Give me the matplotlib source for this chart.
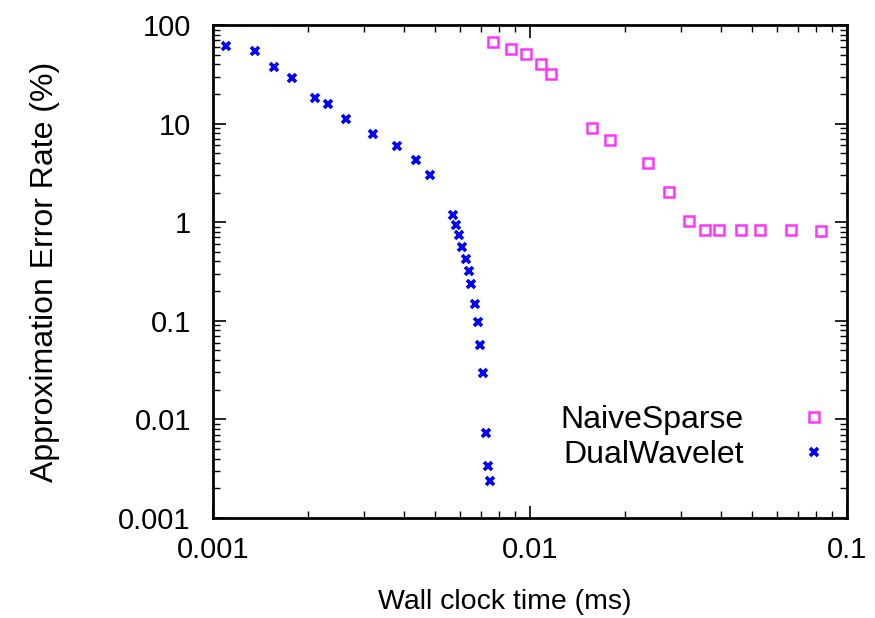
import matplotlib
matplotlib.use("Agg")
import matplotlib.pyplot as plt
from matplotlib.ticker import FixedLocator, FixedFormatter, LogLocator, NullFormatter

plt.rcParams["font.family"] = ["Liberation Sans", "DejaVu Sans"]

# DualWavelet: wall clock time (ms) vs approximation error (%)
dual_time = [0.0011, 0.00136, 0.00156, 0.00177, 0.0021, 0.0023, 0.00262, 0.0032,
             0.0038, 0.00436, 0.00483, 0.00573, 0.00584, 0.00597, 0.00609, 0.00627,
             0.00642, 0.00651, 0.0067, 0.00684, 0.00696, 0.00712, 0.00726, 0.00739,
             0.00748]
dual_err = [61.2, 54.5, 37.8, 28.8, 18.0, 15.8, 11.1, 7.9,
            5.97, 4.25, 3.01, 1.18, 0.937, 0.741, 0.556, 0.424,
            0.322, 0.236, 0.147, 0.0973, 0.0564, 0.0293, 0.00723, 0.00339,
            0.00237]

# NaiveSparse
naive_time = [0.00763, 0.00869, 0.00971, 0.0108, 0.01165, 0.0157, 0.01784, 0.0235,
              0.0274, 0.0317, 0.0357, 0.0394, 0.0462, 0.0533, 0.0664, 0.0826]
naive_err = [67.7, 57.1, 50.5, 39.9, 31.6, 9.08, 6.82, 4.01,
             2.04, 1.035, 0.833, 0.833, 0.833, 0.833, 0.833, 0.82]

x_ticks = [0.001, 0.01, 0.1]
x_labels = ["0.001", "0.01", "0.1"]
y_ticks = [0.001, 0.01, 0.1, 1, 10, 100]
y_labels = ["0.001", "0.01", "0.1", "1", "10", "100"]

fig = plt.figure(figsize=(8.75, 6.18), dpi=100)
ax = fig.add_axes([0.2434, 0.1618, 0.7246, 0.7977])

ax.plot(naive_time, naive_err, linestyle="none", marker="s", markersize=6.5,
        markerfacecolor="none", markeredgecolor="#ff33ff", markeredgewidth=1.8,
        label="NaiveSparse")
ax.plot(dual_time, dual_err, linestyle="none", marker="x", markersize=6,
        markeredgecolor="#0000ff", markeredgewidth=2.6, label="DualWavelet")

ax.set_xscale("log")
ax.set_yscale("log")
ax.set_xlim(0.001, 0.1)
ax.set_ylim(0.001, 100)

ax.xaxis.set_major_locator(FixedLocator(x_ticks))
ax.xaxis.set_major_formatter(FixedFormatter(x_labels))
ax.yaxis.set_major_locator(FixedLocator(y_ticks))
ax.yaxis.set_major_formatter(FixedFormatter(y_labels))
ax.xaxis.set_minor_locator(LogLocator(base=10, subs=range(2, 10)))
ax.yaxis.set_minor_locator(LogLocator(base=10, subs=range(2, 10)))
ax.xaxis.set_minor_formatter(NullFormatter())
ax.yaxis.set_minor_formatter(NullFormatter())

ax.tick_params(which="both", direction="in", top=True, right=True, labelsize=21)
ax.tick_params(which="major", length=9, width=1.2)
ax.tick_params(which="minor", length=5, width=1.0)
ax.tick_params(axis="x", which="major", pad=13)
ax.tick_params(axis="y", which="major", pad=16)
for sp in ax.spines.values():
    sp.set_linewidth(2)

ax.set_xlabel("Wall clock time (ms)", fontsize=20.5)
ax.xaxis.set_label_coords(0.46, -0.145)
ax.set_ylabel("Approximation Error Rate (%)", fontsize=23, labelpad=42)

ax.legend(loc="upper right", bbox_to_anchor=(862 / 875, 1 - 389 / 618),
          bbox_transform=fig.transFigure, frameon=False, borderpad=0,
          markerfirst=False, fontsize=23, handlelength=2.0, handletextpad=1.2,
          labelspacing=0.15)

fig.savefig("out.png", dpi=100)
plt.close(fig)
